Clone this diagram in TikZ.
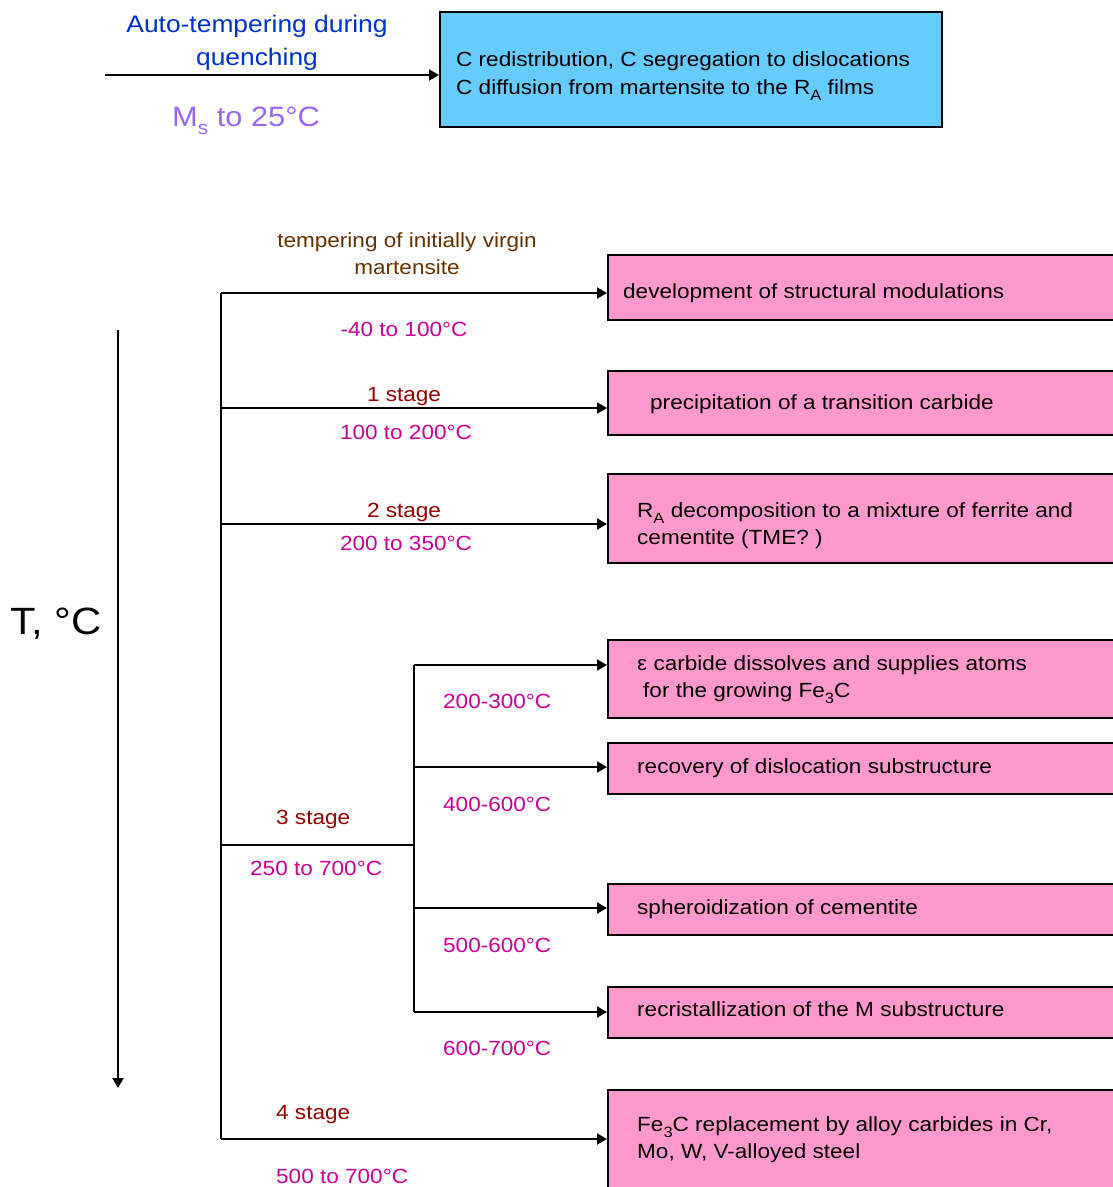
\documentclass[tikz,border=0pt]{standalone}
\usepackage{fontspec}
\setmainfont{Liberation Sans}[FakeStretch=1.1]
\usetikzlibrary{arrows.meta}
\definecolor{boxblue}{HTML}{66CCFF}
\definecolor{boxpink}{HTML}{FF99CC}
\definecolor{txtblue}{HTML}{0033CC}
\definecolor{txtpurple}{HTML}{9966FF}
\definecolor{txtbrown}{HTML}{663300}
\definecolor{txtred}{HTML}{990000}
\definecolor{txtmag}{HTML}{CC0099}
\newcommand{\bodyfont}{\fontsize{20.5}{27}\selectfont}
\newcommand{\lowsub}[1]{\raisebox{-0.3em}{\fontsize{15}{15}\selectfont #1}}
\tikzset{
  lbl/.style={inner sep=0pt, font=\bodyfont},
  bt/.style={lbl, anchor=base west, text=black},
  tmp/.style={lbl, text=txtmag},
  stg/.style={lbl, text=txtred},
  pbox/.style={draw=black, line width=2pt, fill=boxpink, anchor=north west, inner sep=0pt, minimum width=520pt},
  wire/.style={line width=2pt, draw=black},
  arr/.style={wire, -{Triangle[length=10pt,width=11pt]}},
}
\begin{document}
\begin{tikzpicture}[x=1pt,y=-1pt]
\useasboundingbox (0,0) rectangle (1113,1187);
\clip (0,0) rectangle (1113,1187);

% top part
\node[draw=black, line width=2pt, fill=boxblue, anchor=north west, inner sep=0pt,
      minimum width=502pt, minimum height=115pt] (top) at (439,11) {};
\node[bt] (topt1) at (456,66) {C redistribution, C segregation to dislocations};
\node[bt] (topt2) at (456,94) {C diffusion from martensite to the R\lowsub{A} films};
\coordinate (topstart) at (105,75);
\draw[arr] (topstart) -- (topstart -| top.west);
\node[inner sep=0pt, anchor=base, text=txtblue, font=\fontsize{24}{33}\selectfont] (auto1) at (257,32)
  {Auto-tempering during};
\node[inner sep=0pt, anchor=base, text=txtblue, font=\fontsize{24}{33}\selectfont] (auto2) at (257,65)
  {quenching};
\node[inner sep=0pt, anchor=base west, text=txtpurple, font=\fontsize{28}{30}\selectfont] (ms) at (172,126)
  {M\raisebox{-0.3em}{\fontsize{19}{19}\selectfont s} to 25°C};

% temperature axis
\node[inner sep=0pt, anchor=west, font=\fontsize{38}{44}\selectfont] (T) at (10,624) {T, °C};
\coordinate (ax1) at (118,330);
\coordinate (ax2) at (118,1088);
\draw[arr] (ax1) -- (ax2);

% main spine
\coordinate (s0) at (221,293);
\coordinate (s1) at (221,408);
\coordinate (s2) at (221,524);
\coordinate (s3) at (221,845);
\coordinate (s4) at (221,1139);
\draw[wire] (s0) -- (s4);

% boxes
\node[pbox, minimum height=65pt] (b0) at (607,254) {};
\node[pbox, minimum height=64pt] (b1) at (607,370) {};
\node[pbox, minimum height=89pt] (b2) at (607,473) {};
\node[pbox, minimum height=78pt] (b3) at (607,639) {};
\node[pbox, minimum height=51pt] (b4) at (607,742) {};
\node[pbox, minimum height=51pt] (b5) at (607,883) {};
\node[pbox, minimum height=51pt] (b6) at (607,986) {};
\node[pbox, minimum height=110pt] (b7) at (607,1089) {};

% box texts
\node[bt] (t0) at (623,298) {development of structural modulations};
\node[bt] (t1) at (650,409) {precipitation of a transition carbide};
\node[bt] (t2a) at (637,517) {R\lowsub{A} decomposition to a mixture of ferrite and};
\node[bt] (t2b) at (637,544) {cementite (TME? )};
\node[bt] (t3a) at (637,670) {ε carbide dissolves and supplies atoms};
\node[bt] (t3b) at (643,697) {for the growing Fe\lowsub{3}C};
\node[bt] (t4) at (637,773) {recovery of dislocation substructure};
\node[bt] (t5) at (637,914) {spheroidization of cementite};
\node[bt] (t6) at (637,1016) {recristallization of the M substructure};
\node[bt] (t7a) at (637,1131) {Fe\lowsub{3}C replacement by alloy carbides in Cr,};
\node[bt] (t7b) at (637,1158) {Mo, W, V-alloyed steel};

% main arrows
\draw[arr] (s0) -- (s0 -| b0.west);
\draw[arr] (s1) -- (s1 -| b1.west);
\draw[arr] (s2) -- (s2 -| b2.west);
\draw[arr] (s4) -- (s4 -| b7.west);

% stage 3 branch
\coordinate (j3) at (414,845);
\coordinate (c3) at (414,665);
\coordinate (c4) at (414,767);
\coordinate (c5) at (414,908);
\coordinate (c6) at (414,1012);
\draw[wire] (s3) -- (j3);
\draw[wire] (c3) -- (c6);
\draw[arr] (c3) -- (c3 -| b3.west);
\draw[arr] (c4) -- (c4 -| b4.west);
\draw[arr] (c5) -- (c5 -| b5.west);
\draw[arr] (c6) -- (c6 -| b6.west);

% labels
\node[lbl, anchor=base, text=txtbrown] (virgin1) at (407,247) {tempering of initially virgin};
\node[lbl, anchor=base, text=txtbrown] (virgin2) at (407,274) {martensite};
\node[tmp, anchor=base] (l0) at (404,336) {-40 to 100°C};
\node[stg, anchor=base] (st1) at (404,401) {1 stage};
\node[tmp, anchor=base] (l1) at (406,439) {100 to 200°C};
\node[stg, anchor=base] (st2) at (404,517) {2 stage};
\node[tmp, anchor=base] (l2) at (406,550) {200 to 350°C};
\node[stg, anchor=base west] (st3) at (276,824) {3 stage};
\node[tmp, anchor=base west] (l3) at (250,875) {250 to 700°C};
\node[tmp, anchor=base west] (l3a) at (443,708) {200-300°C};
\node[tmp, anchor=base west] (l3b) at (443,811) {400-600°C};
\node[tmp, anchor=base west] (l3c) at (443,952) {500-600°C};
\node[tmp, anchor=base west] (l3d) at (443,1055) {600-700°C};
\node[stg, anchor=base west] (st4) at (276,1119) {4 stage};
\node[tmp, anchor=base west] (l4) at (276,1183) {500 to 700°C};
\end{tikzpicture}
\end{document}
